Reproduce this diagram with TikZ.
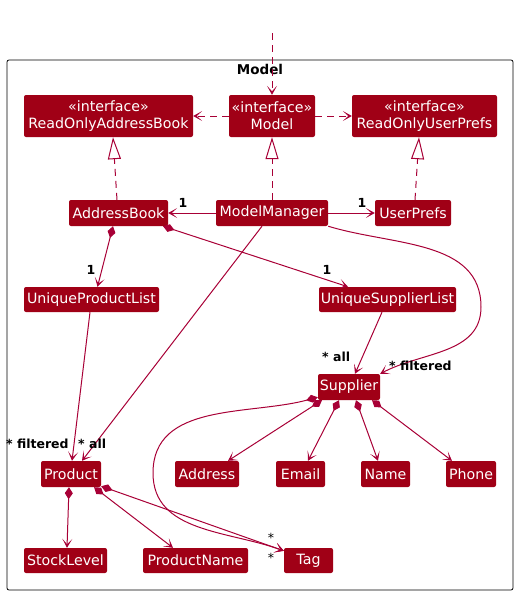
\documentclass[tikz,border=0pt]{standalone}
\usepackage{fontspec}
\setmainfont{DejaVu Sans}
\usetikzlibrary{arrows.meta}
\definecolor{boxred}{RGB}{160,0,22}
\definecolor{linered}{RGB}{168,0,54}
\begin{document}
\begin{tikzpicture}[x=1pt,y=-1pt,
  cls/.style={fill=boxred, text=white, rounded corners=2pt, inner sep=0pt,
    font=\fontsize{14.2}{17}\selectfont, align=center},
  ln/.style={draw=linered, line width=1pt},
  arr/.style={ln, -{Stealth[length=9pt,width=10pt,inset=5.5pt]}},
  comp/.style={ln, {Diamond[length=12pt,width=8pt]}-{Stealth[length=9pt,width=10pt,inset=5.5pt]}},
  real/.style={ln, dash pattern=on 7pt off 5pt, -{Triangle[open,length=22pt,width=13pt]}},
  dep/.style={ln, dash pattern=on 7pt off 5pt, -{Stealth[length=9pt,width=10pt,inset=5.5pt]}},
  lbl/.style={font=\bfseries\fontsize{12.5}{14}\selectfont, text=black, inner sep=0pt},
  star/.style={font=\fontsize{12.5}{14}\selectfont, text=black, inner sep=0pt}
]
\useasboundingbox (0,0) rectangle (518,595);
% package frame
\draw[black, line width=0.8pt, rounded corners=2pt] (7,60) rectangle (513,590);
\node[font=\bfseries\fontsize{13.5}{15}\selectfont, inner sep=0pt] (pkg) at (260,69) {Model};

% nodes
\node[cls, minimum width=169pt, minimum height=42pt] (roab) at (108.5,116) {«interface»\\ReadOnlyAddressBook};
\node[cls, minimum width=86pt, minimum height=42pt] (model) at (272,116) {«interface»\\Model};
\node[cls, minimum width=145pt, minimum height=42pt] (roup) at (424.5,116) {«interface»\\ReadOnlyUserPrefs};

\node[cls, minimum width=99pt, minimum height=26pt] (ab) at (118.5,213) {AddressBook};
\node[cls, minimum width=112pt, minimum height=26pt] (mm) at (272,213) {ModelManager};
\node[cls, minimum width=76pt, minimum height=26pt] (up) at (413,213) {UserPrefs};

\node[cls, minimum width=135pt, minimum height=25pt] (upl) at (91.5,299.5) {UniqueProductList};
\node[cls, minimum width=137pt, minimum height=25pt] (usl) at (387.5,299.5) {UniqueSupplierList};

\node[cls, minimum width=62pt, minimum height=26pt] (sup) at (349,387) {Supplier};

\node[cls, minimum width=60pt, minimum height=26pt] (prod) at (71,474) {Product};
\node[cls, minimum width=64pt, minimum height=26pt] (addr) at (207,474) {Address};
\node[cls, minimum width=49pt, minimum height=26pt] (email) at (300.5,474) {Email};
\node[cls, minimum width=49pt, minimum height=26pt] (name) at (385.5,474) {Name};
\node[cls, minimum width=50pt, minimum height=26pt] (phone) at (471,474) {Phone};

\node[cls, minimum width=83pt, minimum height=25pt] (sl) at (65.5,560.5) {StockLevel};
\node[cls, minimum width=105pt, minimum height=25pt] (pn) at (195.5,560.5) {ProductName};
\node[cls, minimum width=49pt, minimum height=25pt] (tag) at (308.5,560.5) {Tag};

% incoming dependency from outside
\coordinate (ext) at (272,33);
\draw[dep] (ext) -- (model.north);
\draw[dep] (model.west) -- (roab.east);
\draw[dep] (model.east) -- (roup.west);

% realizations
\draw[real] ([xshift=-1.5pt]ab.north) -- ([xshift=4.5pt]roab.south);
\draw[real] (mm.north) -- (model.south);
\draw[real] ([xshift=2pt]up.north) -- ([xshift=-5.5pt]roup.south);

% associations
\draw[arr] (mm.west) -- (ab.east);
\draw[arr] (mm.east) -- (up.west);
\draw[comp] ([xshift=-5.5pt]ab.south) -- ([xshift=6pt]upl.north);
\draw[comp] ([xshift=44.5pt]ab.south) -- ([xshift=-39.5pt]usl.north);
\draw[arr] ([xshift=-10pt]mm.south) -- ([xshift=11pt]prod.north);
\draw[arr] ([xshift=-1.5pt]upl.south) -- ([xshift=1pt]prod.north);
\draw[arr] ([xshift=-5.5pt]usl.south) -- ([xshift=6pt]sup.north);
\draw[arr] (mm.south east) to[out=-17,in=90] (481,307) to[out=-90,in=28] (sup.north east);

% supplier compositions
\draw[comp] ([xshift=-27pt]sup.south) -- ([xshift=21pt]addr.north);
\draw[comp] ([xshift=-10pt]sup.south) -- ([xshift=7.5pt]email.north);
\draw[comp] ([xshift=7pt]sup.south) -- ([xshift=-7.5pt]name.north);
\draw[comp] ([xshift=23pt]sup.south) -- ([xshift=-19pt]phone.north);
\draw[comp] ([yshift=3pt]sup.south west) to[out=195,in=90] (153,473) to[out=-90,in=160] ([yshift=-3pt]tag.north west);

% product compositions
\draw[comp] ([xshift=-2pt]prod.south) -- ([xshift=1.5pt]sl.north);
\draw[comp] ([xshift=23pt]prod.south) -- ([xshift=-22.5pt]pn.north);
\draw[comp] ([yshift=1pt]prod.south east) -- ([yshift=-3pt]tag.north west);

% multiplicity labels
\node[lbl] (m1) at (183,203) {1};
\node[lbl] (m2) at (362,203) {1};
\node[lbl] (m3) at (91,270) {1};
\node[lbl] (m4) at (327,270) {1};
\node[lbl, anchor=west] (m5) at (322,357) {* all};
\node[lbl, anchor=west] (m6) at (389,366) {* filtered};
\node[lbl, anchor=west] (m7) at (6,444) {* filtered};
\node[lbl, anchor=west] (m8) at (78,444) {* all};
\node[star] (m9) at (271,538) {*};
\node[star] (m10) at (271,558) {*};
\end{tikzpicture}
\end{document}
